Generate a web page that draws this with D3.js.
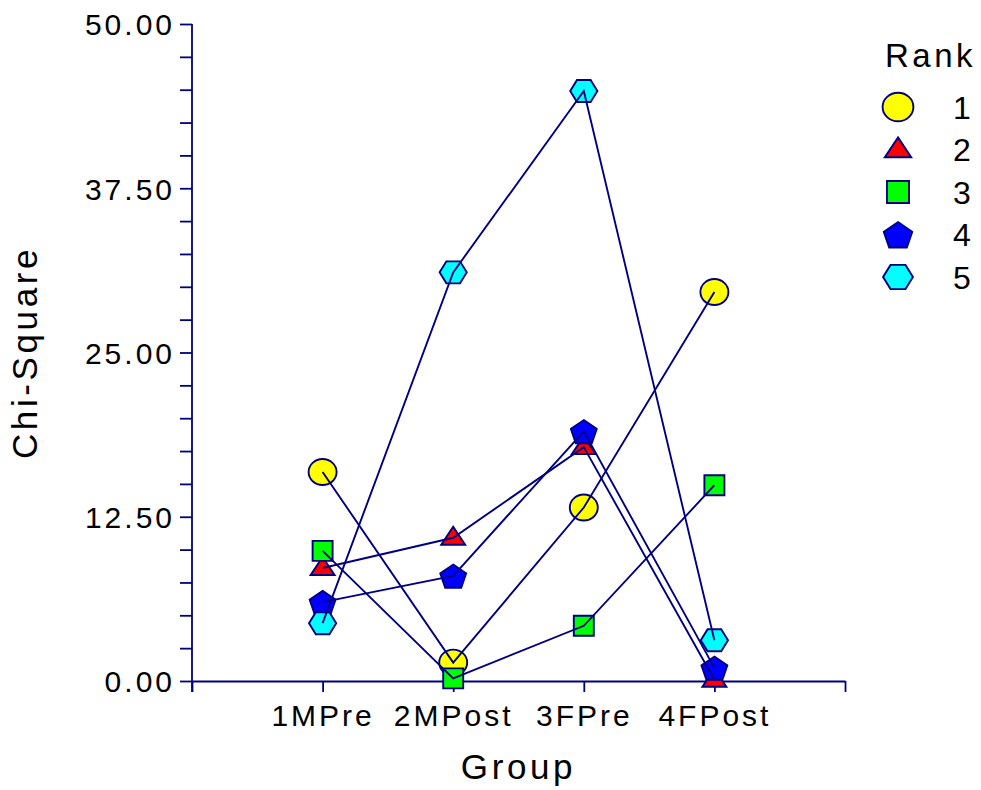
<!DOCTYPE html>
<meta charset="utf-8">
<style>
body { margin: 0; background: #fff; }
text { font-family: "Liberation Sans", Arial, sans-serif; fill: #000; }
.axis path, .axis line { fill: none; stroke: #000080; stroke-width: 1.8px; }
.tick-label { font-size: 30px; letter-spacing: 3px; }
.title { font-size: 35px; letter-spacing: 3.6px; }
.link { fill: none; stroke: #000080; stroke-width: 1.9px; }
.mark { stroke: #000080; stroke-width: 1.9px; }
</style>
<body>
<script src="https://d3js.org/d3.v7.min.js"></script>
<script>

//
// Data
//

var groups = ["1MPre", "2MPost", "3FPre", "4FPost"];
var ranks = ["1", "2", "3", "4", "5"];
var rank1 = [15.9, 1.4, 13.2, 29.6];
var rank2 = [8.6, 10.9, 17.8, 0.1];
var rank3 = [9.9, 0.2, 4.2, 14.9];
var rank4 = [6.0, 8.0, 19.0, 1.0];
var rank5 = [4.4, 31.1, 44.9, 3.1];
var yTicks = [0, 12.5, 25, 37.5, 50];

var series = [rank1, rank2, rank3, rank4, rank5];
var fills = ["#ffff00", "#ff0000", "#00ff00", "#0000ff", "#00ffff"];
var kinds = ["circle", "triangle", "square", "pentagon", "hexagon"];

//
// Layout
//

var width = 981, height = 790;
var plotLeft = 192, plotRight = 845, plotTop = 24, plotBottom = 681;

var svg = d3.select("body").append("svg")
    .attr("width", width)
    .attr("height", height);

var x = d3.scaleLinear().domain([0, groups.length + 1]).range([plotLeft, plotRight]);
var y = d3.scaleLinear().domain([0, 50]).range([plotBottom, plotTop]);

// marker shapes, centred at 0,0
function shapePath(kind, s) {
  var pts;
  if (kind == "circle") {
    var rx = 14 * s, ry = 13 * s;
    return `M${-rx},0A${rx},${ry} 0 1,0 ${rx},0A${rx},${ry} 0 1,0 ${-rx},0Z`;
  }
  if (kind == "triangle") pts = [[0, -11], [12, 7], [-12, 7]];
  if (kind == "square") pts = [[-10, -10], [10, -10], [10, 10], [-10, 10]];
  if (kind == "pentagon") pts = d3.range(5).map(k => {
    var a = (-90 + 72 * k) * Math.PI / 180;
    return [13.6 * Math.cos(a), 12.8 * Math.sin(a) + 1.5];
  });
  if (kind == "hexagon") pts = d3.range(6).map(k => {
    var a = (60 * k) * Math.PI / 180;
    return [13.6 * Math.cos(a), 12.7 * Math.sin(a)];
  });
  return "M" + pts.map(p => [p[0] * s, p[1] * s].join(",")).join("L") + "Z";
}

//
// Axes
//

var yAxis = d3.axisLeft(y)
    .tickValues(d3.range(0, 50.01, 2.5))
    .tickSize(12)
    .tickSizeOuter(0)
    .tickFormat(d => yTicks.indexOf(d) >= 0 ? d.toFixed(2) : "");

var yg = svg.append("g")
    .attr("class", "axis")
    .attr("transform", `translate(${plotLeft},0)`)
    .call(yAxis);
yg.selectAll("text")
    .attr("class", "tick-label")
    .attr("x", -17)
    .attr("dy", "0.36em")
    .attr("fill", "#000");
yg.select(".domain").attr("d", `M0,${plotTop}V${plotBottom + 11}`);

var xAxis = d3.axisBottom(x)
    .tickValues(d3.range(0, groups.length + 2))
    .tickSize(11)
    .tickSizeOuter(0)
    .tickFormat(d => groups[d - 1] || "");

var xg = svg.append("g")
    .attr("class", "axis")
    .attr("transform", `translate(0,${plotBottom})`)
    .call(xAxis);
xg.selectAll("text")
    .attr("class", "tick-label")
    .attr("y", 24)
    .attr("dy", "0.71em")
    .attr("fill", "#000");

svg.append("text")
    .attr("class", "title")
    .attr("x", (plotLeft + plotRight) / 2)
    .attr("y", 779)
    .attr("text-anchor", "middle")
    .text("Group");

svg.append("text")
    .attr("class", "title")
    .attr("transform", `translate(37,${(plotTop + plotBottom) / 2}) rotate(-90)`)
    .attr("text-anchor", "middle")
    .text("Chi-Square");

//
// Markers, then lines on top
//

series.forEach(function(vals, i) {
  svg.append("g").selectAll("path")
    .data(vals)
    .enter().append("path")
      .attr("class", "mark")
      .attr("fill", fills[i])
      .attr("transform", (d, j) => `translate(${x(j + 1)},${y(d)})`)
      .attr("d", shapePath(kinds[i], 1));
});

var line = d3.line()
    .x((d, j) => x(j + 1))
    .y(d => y(d));

series.forEach(function(vals) {
  svg.append("path")
      .attr("class", "link")
      .attr("d", line(vals));
});

//
// Legend
//

var legend = svg.append("g");

legend.append("text")
    .attr("x", 885)
    .attr("y", 67)
    .style("font-size", "33px")
    .style("letter-spacing", "3.5px")
    .text("Rank");

var rows = legend.selectAll(".row")
    .data(ranks)
    .enter().append("g")
      .attr("class", "row")
      .attr("transform", (d, i) => `translate(0,${107 + i * 42.5})`);

rows.append("path")
    .attr("class", "mark")
    .attr("transform", "translate(898,0)")
    .attr("fill", (d, i) => fills[i])
    .attr("d", (d, i) => shapePath(kinds[i], 1.1));

rows.append("text")
    .attr("x", 953)
    .attr("dy", "0.36em")
    .style("font-size", "32px")
    .text(d => d);

</script>
</body>
